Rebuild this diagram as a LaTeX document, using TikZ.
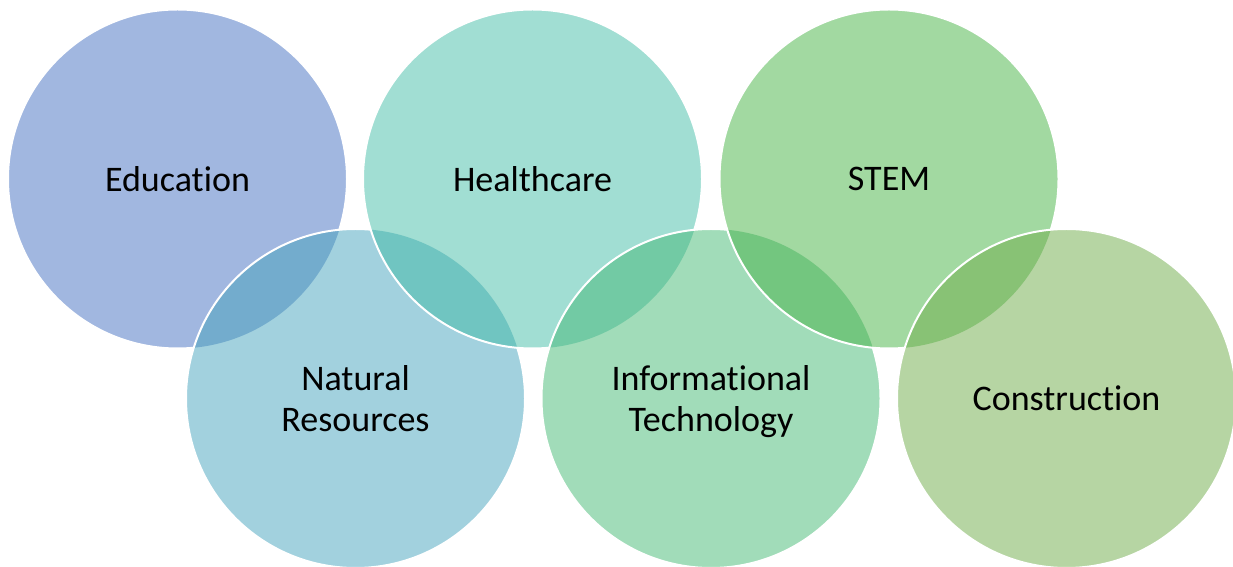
\documentclass[tikz,border=0pt]{standalone}
\usepackage{fontspec}
\setmainfont{Carlito}[Ligatures={NoCommon,NoRequired,NoContextual}, Contextuals=NoAlternate]
\definecolor{cEdu}{RGB}{161,183,224}
\definecolor{cNat}{RGB}{162,209,222}
\definecolor{cHea}{RGB}{161,222,211}
\definecolor{cInf}{RGB}{161,220,185}
\definecolor{cSte}{RGB}{162,217,161}
\definecolor{cCon}{RGB}{182,213,163}
\definecolor{lEN}{RGB}{115,172,205}
\definecolor{lNH}{RGB}{112,197,193}
\definecolor{lHI}{RGB}{114,202,164}
\definecolor{lIS}{RGB}{115,198,127}
\definecolor{lSC}{RGB}{136,194,117}
\tikzset{
  bub/.style={circle, minimum size=339pt, inner sep=0pt, outer sep=0pt, draw=none},
  rim/.style={draw=white, line width=2pt},
  lab/.style={font=\fontsize{36}{40.5}\selectfont, text=black, align=center, inner sep=0pt, text depth=0pt}
}
\begin{document}
\begin{tikzpicture}[x=1pt,y=1pt]
\useasboundingbox (0,0) rectangle (1233,567);
\clip (0,0) rectangle (1233,567);
\def\R{169.5}
% Education
\node[bub, fill=cEdu] (edu) at (177.5,388) {};
\draw[rim] (edu.center) circle (\R);
% Natural Resources
\node[bub, fill=cNat] (nat) at (355.5,168.5) {};
\begin{scope}\clip (edu.center) circle (\R); \fill[lEN] (nat.center) circle (\R);\end{scope}
\draw[rim] (nat.center) circle (\R);
% Healthcare
\node[bub, fill=cHea] (hea) at (532.5,388) {};
\begin{scope}\clip (nat.center) circle (\R); \fill[lNH] (hea.center) circle (\R);\end{scope}
\draw[rim] (hea.center) circle (\R);
% Informational Technology
\node[bub, fill=cInf] (inf) at (711,168.5) {};
\begin{scope}\clip (hea.center) circle (\R); \fill[lHI] (inf.center) circle (\R);\end{scope}
\draw[rim] (inf.center) circle (\R);
% STEM
\node[bub, fill=cSte] (ste) at (889,388) {};
\begin{scope}\clip (inf.center) circle (\R); \fill[lIS] (ste.center) circle (\R);\end{scope}
\draw[rim] (ste.center) circle (\R);
% Construction
\node[bub, fill=cCon] (con) at (1066.5,168.5) {};
\begin{scope}\clip (ste.center) circle (\R); \fill[lSC] (con.center) circle (\R);\end{scope}
\draw[rim] (con.center) circle (\R);
% labels
\node[lab] (eduL) at (edu.center) {Educat\kern0pt ion};
\node[lab] (natL) at (nat.center) {Natural\\Resources};
\node[lab] (heaL) at (hea.center) {Healthcare};
\node[lab] (infL) at (inf.center) {Informat\kern0pt ional\\Technology};
\node[lab] (steL) at (ste.center) {STEM};
\node[lab] (conL) at (con.center) {Construct\kern0pt ion};
\end{tikzpicture}
\end{document}
